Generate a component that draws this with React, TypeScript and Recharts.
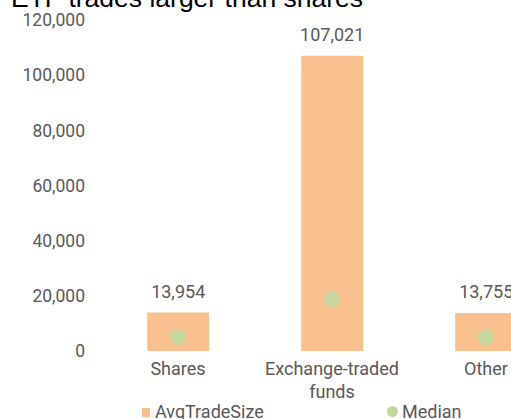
import { ComposedChart, Bar, Scatter, XAxis, YAxis, LabelList, Legend, Text } from "recharts";

const categories = ["Shares", "Exchange-traded funds", "Other"];
const avgTradeSize = [13954, 107021, 13755];
const median = [5100, 18900, 5100];
const yTicks = [0, 20000, 40000, 60000, 80000, 100000, 120000];

const data = categories.map((name, i) => ({
  name,
  AvgTradeSize: avgTradeSize[i],
  Median: median[i],
}));

const BAR = "#F9C08F";
const DOT = "#C4D79D";
const GREY = "#595959";
const FONT = "Roboto, 'Liberation Sans', sans-serif";

const fmt = (v: number) => v.toLocaleString("en-US");

function CategoryTick(props: any) {
  const { x, y, payload } = props;
  return (
    <Text
      x={x}
      y={y}
      width={150}
      textAnchor="middle"
      verticalAnchor="start"
      lineHeight={23}
      fill={GREY}
      style={{ fontSize: 18, fontFamily: FONT }}
    >
      {payload.value}
    </Text>
  );
}

function Dot(props: any) {
  const { cx, cy } = props;
  return <circle cx={cx} cy={cy} r={8} fill={DOT} />;
}

function LegendBox() {
  const text = { position: "absolute" as const, top: 3, fontSize: 18, lineHeight: "18px", color: GREY, fontFamily: FONT };
  return (
    <div style={{ position: "relative", height: 22 }}>
      <span style={{ position: "absolute", left: 142, top: 8, width: 8, height: 9, background: BAR }} />
      <span style={{ ...text, left: 155 }}>AvgTradeSize</span>
      <span style={{ position: "absolute", left: 387, top: 6, width: 11, height: 11, borderRadius: "50%", background: DOT }} />
      <span style={{ ...text, left: 402 }}>Median</span>
    </div>
  );
}

export default function App() {
  return (
    <div style={{ position: "fixed", left: 0, top: 0, width: 511, height: 419, overflow: "hidden", background: "#fff" }}>
      <div
        style={{
          position: "absolute",
          left: 11,
          top: -15,
          fontFamily: "'Liberation Sans', Arial, sans-serif",
          fontSize: 26.5,
          lineHeight: 1,
          color: "#000",
          whiteSpace: "nowrap",
        }}
      >
        ETF trades larger than shares
      </div>
      <ComposedChart
        width={600}
        height={440}
        data={data}
        margin={{ top: 20, right: 37, bottom: 29, left: 0 }}
        barCategoryGap="30%"
        style={{ position: "absolute", left: 0, top: 0 }}
      >
        <XAxis
          dataKey="name"
          axisLine={false}
          tickLine={false}
          tickSize={0}
          tickMargin={11}
          height={60}
          interval={0}
          tick={<CategoryTick />}
        />
        <YAxis
          domain={[0, 120000]}
          ticks={yTicks}
          tickFormatter={fmt}
          axisLine={false}
          tickLine={false}
          tickSize={0}
          tickMargin={16}
          width={101}
          tick={{ fill: GREY, fontSize: 17.5, fontFamily: FONT }}
        />
        <Bar dataKey="AvgTradeSize" fill={BAR} isAnimationActive={false}>
          <LabelList
            dataKey="AvgTradeSize"
            position="top"
            offset={15}
            formatter={(v: any) => fmt(Number(v))}
            fill={GREY}
            fontSize={18}
            fontFamily={FONT}
          />
        </Bar>
        <Scatter dataKey="Median" fill={DOT} shape={<Dot />} isAnimationActive={false} />
        <Legend
          verticalAlign="middle"
          align="center"
          layout="horizontal"
          wrapperStyle={{ left: 0, top: 400, width: 600 }}
          content={<LegendBox />}
        />
      </ComposedChart>
    </div>
  );
}
